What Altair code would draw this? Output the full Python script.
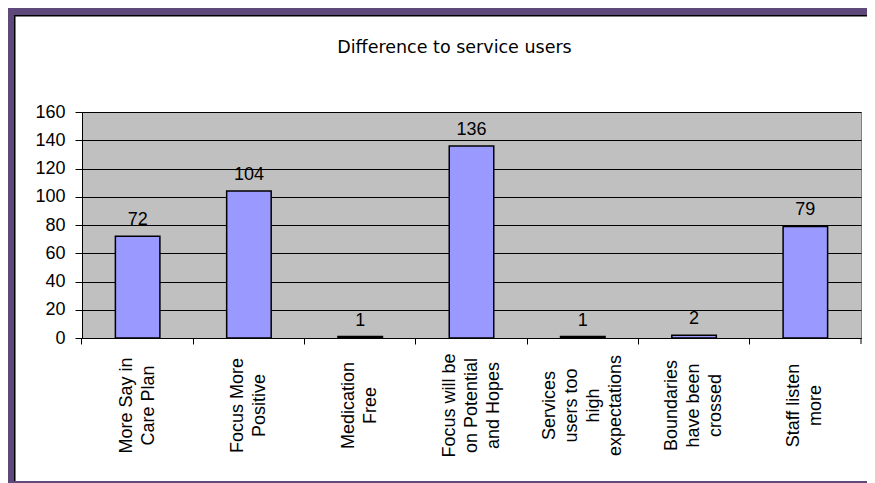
import altair as alt
import pandas as pd

categories = [
    "More Say in\nCare Plan",
    "Focus More\nPositive",
    "Medication\nFree",
    "Focus will be\non Potential\nand Hopes",
    "Services\nusers too\nhigh\nexpectations",
    "Boundaries\nhave been\ncrossed",
    "Staff listen\nmore",
]
values = [72, 104, 1, 136, 1, 2, 79]
y_ticks = [0, 20, 40, 60, 80, 100, 120, 140, 160]
title_text = "Difference to service users"

df = pd.DataFrame({"category": categories, "count": values})

W, H = 779, 226
PURPLE = "#5F497A"
FONT = "Liberation Sans"
LH = 22

nlines = "length(split(datum.value, '\\n'))"
x_enc = alt.X(
    "category:N", sort=categories, title=None,
    scale=alt.Scale(paddingInner=0.6, paddingOuter=0.3),
    axis=alt.Axis(
        labelAngle=270, labelAlign="center", labelBaseline="middle",
        labelExpr="split(datum.label, '\\n')",
        labelFont=FONT, labelFontSize=18, labelColor="black",
        labelLineHeight=LH, labelPadding=61, labelLimit=300,
        labelOffset={
            "condition": [
                {"test": nlines + " == 2", "value": -LH / 2},
                {"test": nlines + " == 3", "value": -LH},
                {"test": nlines + " == 4", "value": -1.5 * LH},
            ],
            "value": 0,
        },
        tickSize=6, tickColor="black", tickWidth=1,
        domainColor="black", domainWidth=1, bandPosition=-0.75,
    ),
)
y_enc = alt.Y(
    "count:Q", title=None,
    scale=alt.Scale(domain=[0, 160], nice=False),
    axis=alt.Axis(
        values=y_ticks, tickCount=20, labelOverlap=False,
        grid=True, gridColor="black", gridOpacity=1, gridWidth=1,
        tickColor="black", tickSize=7, domainColor="black", domainWidth=1,
        labelFont=FONT, labelFontSize=18, labelColor="black", labelPadding=10,
    ),
)

base = alt.Chart(df)
bars = base.mark_bar(fill="#9999FF", stroke="black", strokeWidth=1.5).encode(x=x_enc, y=y_enc)
labels = base.mark_text(
    font=FONT, fontSize=18, color="black", baseline="alphabetic", dy=-11
).encode(x=x_enc, y=y_enc, text="count:Q")

one = alt.Data(values=[{"k": 1}])
frame = alt.Chart(one)
left_strip = frame.mark_rect(color=PURPLE).encode(
    x=alt.value(-75), x2=alt.value(-68), y=alt.value(-104), y2=alt.value(H + 145))
top_strip = frame.mark_rect(color=PURPLE).encode(
    x=alt.value(-75), x2=alt.value(W + 6), y=alt.value(-104), y2=alt.value(-97))
bottom_strip = frame.mark_rect(color=PURPLE).encode(
    x=alt.value(-75), x2=alt.value(W + 6), y=alt.value(H + 143), y2=alt.value(H + 145))
left_line = frame.mark_rect(color="black").encode(
    x=alt.value(-68), x2=alt.value(-66.5), y=alt.value(-97), y2=alt.value(H + 143))
top_line = frame.mark_rect(color="black").encode(
    x=alt.value(-68), x2=alt.value(W + 6), y=alt.value(-97), y2=alt.value(-95.5))
end_tick = frame.mark_rule(color="black", strokeWidth=1).encode(
    x=alt.value(W), y=alt.value(H), y2=alt.value(H + 6))
title = frame.mark_text(
    font="DejaVu Sans", fontSize=17.5, color="black", baseline="alphabetic", align="center"
).encode(x=alt.value(W / 2 - 17), y=alt.value(-59), text=alt.value(title_text))

chart = alt.layer(
    bars, labels, end_tick, left_strip, top_strip, bottom_strip, left_line, top_line, title
).properties(
    width=W, height=H,
    autosize=alt.AutoSizeParams(type="none"),
    padding={"left": 74, "top": 104, "right": 6, "bottom": 145},
    background="white",
).configure_view(
    fill="#C0C0C0", stroke="#808080", strokeWidth=1
)

chart.save("out.html", embed_options={"renderer": "svg", "actions": False})
